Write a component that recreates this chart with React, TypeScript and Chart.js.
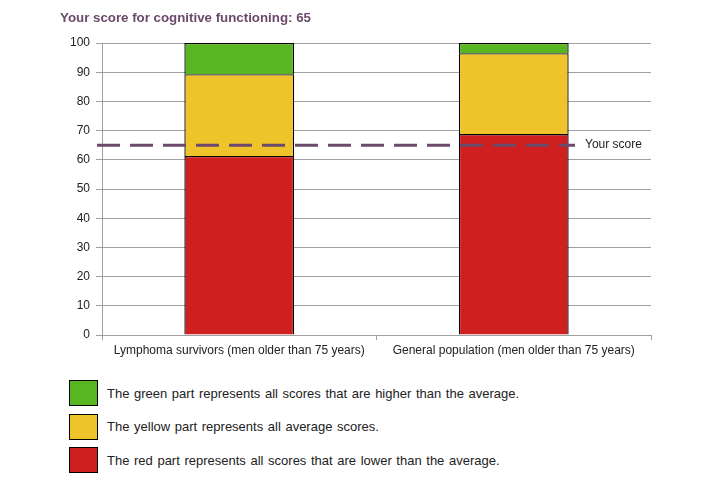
import React, { useEffect, useRef } from "react";
import { Chart, registerables } from "chart.js";

Chart.register(...registerables);

const titleText = "Your score for cognitive functioning: 65";
const categories = [
  "Lymphoma survivors (men older than 75 years)",
  "General population (men older than 75 years)",
];
const redValues = [61.3, 68.8];
const yellowValues = [28.0, 27.7];
const greenValues = [10.7, 3.5];
const yourScore = 65;
const yourScoreLabel = "Your score";
const seriesNames = ["Lower", "Average", "Higher"];
const legendLabels = [
  "The green part represents all scores that are higher than the average.",
  "The yellow part represents all average scores.",
  "The red part represents all scores that are lower than the average.",
];

const RED = "#d01f1f";
const YELLOW = "#eec42a";
const GREEN = "#58b623";
const PURPLE = "#6b4a6b";
const legendColors = [GREEN, YELLOW, RED];
const FONT = "'Liberation Sans', Arial, sans-serif";

const scoreLinePlugin = {
  id: "scoreLine",
  afterDatasetsDraw(chart: any) {
    const { ctx, chartArea, scales } = chart;
    const y = scales.y.getPixelForValue(yourScore);
    ctx.save();
    ctx.strokeStyle = PURPLE;
    ctx.lineWidth = 3;
    ctx.setLineDash([23, 10]);
    ctx.beginPath();
    ctx.moveTo(chartArea.left - 5, y);
    ctx.lineTo(chartArea.right - 76, y);
    ctx.stroke();
    ctx.setLineDash([]);
    ctx.fillStyle = "#222";
    ctx.font = "12px " + FONT;
    ctx.textAlign = "left";
    ctx.textBaseline = "middle";
    ctx.fillText(yourScoreLabel, chartArea.right - 66, y - 1);
    ctx.restore();
  },
};

export default function App() {
  const ref = useRef<HTMLCanvasElement>(null);
  useEffect(() => {
    if (!ref.current) return;
    const chart = new Chart(ref.current, {
      type: "bar",
      data: {
        labels: categories,
        datasets: [
          { label: seriesNames[0], data: redValues, backgroundColor: RED },
          { label: seriesNames[1], data: yellowValues, backgroundColor: YELLOW },
          { label: seriesNames[2], data: greenValues, backgroundColor: GREEN },
        ].map((d) => ({
          ...d,
          borderColor: "#000",
          borderWidth: 1.3,
          borderSkipped: "start",
          barPercentage: 0.4,
          categoryPercentage: 1,
        })),
      },
      options: {
        responsive: false,
        animation: false,
        layout: { padding: { top: 43, right: 67, left: 0, bottom: 0 } },
        plugins: { legend: { display: false }, tooltip: { enabled: false } },
        scales: {
          x: {
            stacked: true,
            grid: {
              drawOnChartArea: false,
              offset: true,
              tickLength: 5,
              color: "#a0a0a0",
            },
            border: { color: "#a0a0a0" },
            ticks: { font: { size: 12, family: FONT }, color: "#222", padding: 3, maxRotation: 0 },
            afterFit: (s: any) => {
              s.height = 30;
            },
          },
          y: {
            stacked: true,
            min: 0,
            max: 100,
            ticks: { stepSize: 10, font: { size: 12, family: FONT }, color: "#222", padding: 6 },
            grid: { color: "#a0a0a0", tickLength: 6 },
            border: { color: "#a0a0a0" },
            afterFit: (s: any) => {
              s.width = 102;
            },
          },
        },
      },
      plugins: [scoreLinePlugin],
    });
    return () => chart.destroy();
  }, []);

  return (
    <div
      style={{
        position: "absolute",
        left: 0,
        top: 0,
        width: 718,
        height: 500,
        background: "#fff",
        fontFamily: FONT,
      }}
    >
      <canvas
        ref={ref}
        width={718}
        height={365}
        style={{ position: "absolute", left: 0, top: 0, width: 718, height: 365 }}
      />
      <div
        style={{
          position: "absolute",
          left: 60,
          top: 10,
          fontSize: 13.3,
          fontWeight: "bold",
          color: PURPLE,
          lineHeight: "16px",
          whiteSpace: "nowrap",
        }}
      >
        {titleText}
      </div>
      {legendLabels.map((t, i) => (
        <div
          key={i}
          style={{
            position: "absolute",
            left: 69,
            top: 380 + i * 33.5,
            height: 26,
            display: "flex",
            alignItems: "center",
            whiteSpace: "nowrap",
          }}
        >
          <div
            style={{
              width: 27,
              height: 24,
              background: legendColors[i],
              border: "1px solid #000",
              marginRight: 9,
            }}
          />
          <span style={{ fontSize: 13, color: "#222", wordSpacing: 1 }}>{t}</span>
        </div>
      ))}
    </div>
  );
}
